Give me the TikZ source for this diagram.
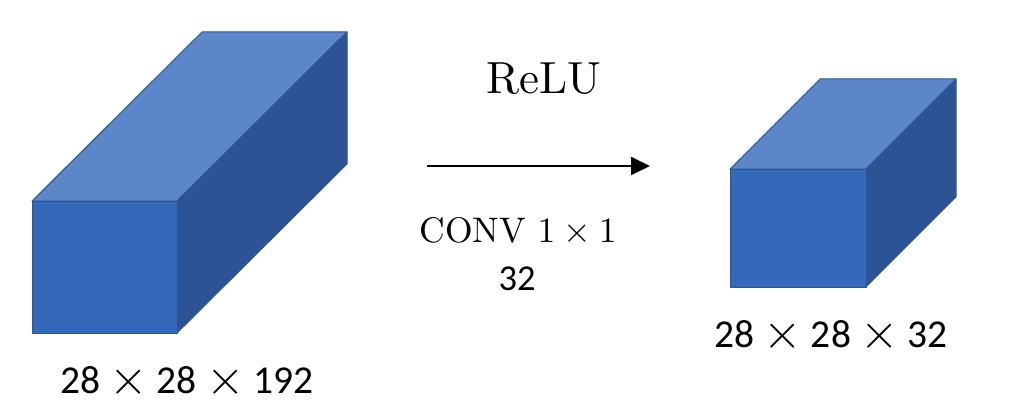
\documentclass[tikz,border=0pt]{standalone}
\usepackage{fontspec}
\newfontfamily\calib{Carlito}
\usetikzlibrary{arrows.meta}
\definecolor{frontc}{HTML}{3469BA}
\definecolor{topc}{HTML}{5B86C7}
\definecolor{sidec}{HTML}{2C5494}
\definecolor{edgec}{HTML}{2F5597}
\tikzset{
  face/.style={draw=edgec, line width=1pt, line join=round},
  lab/.style={anchor=base, inner sep=0pt},
}
\newcommand{\cuboid}[6]{% x0 y0(top-left front) w h dx dy
  \fill[topc, face] (#1,#2) -- ++(#5,#6) -- ++(#3,0) -- ++(-#5,-#6) -- cycle;
  \fill[sidec, face] (#1+#3,#2) -- ++(#5,#6) -- ++(0,#4) -- ++(-#5,-#6) -- cycle;
  \fill[frontc, face] (#1,#2) rectangle ++(#3,#4);
}
\newcommand{\tms}{\hspace{2.3pt}\raisebox{-0.35pt}{\scalebox{1.25}{$\times$}}\hspace{2.3pt}}
\begin{document}
\begin{tikzpicture}[x=1pt,y=-1pt]
\useasboundingbox (0,0) rectangle (1015,420);
% left cuboid
\cuboid{32}{201}{145}{132}{170}{-169}
% right cuboid
\cuboid{730}{169}{136}{118}{90}{-90}
% arrow
\coordinate (a1) at (427,166);
\coordinate (a2) at (650,166);
\draw[line width=1.8pt, -{Triangle[length=19pt,width=18pt]}] (a1) -- (a2);
% labels
\node[lab] (relu) at (544,94) {\scalebox{4.5}{ReLU}};
\node[lab] (conv) at (518,242) {\scalebox{3.55}{CONV $1\times1$}};
\node[lab] (n32) at (517,290) {\scalebox{3.65}{\calib 32}};
\node[lab] (lab1) at (187,393) {\scalebox{3.95}{\calib 28\tms 28\tms 192}};
\node[lab] (lab2) at (831,347) {\scalebox{3.95}{\calib 28\tms 28\tms 32}};
\end{tikzpicture}
\end{document}
